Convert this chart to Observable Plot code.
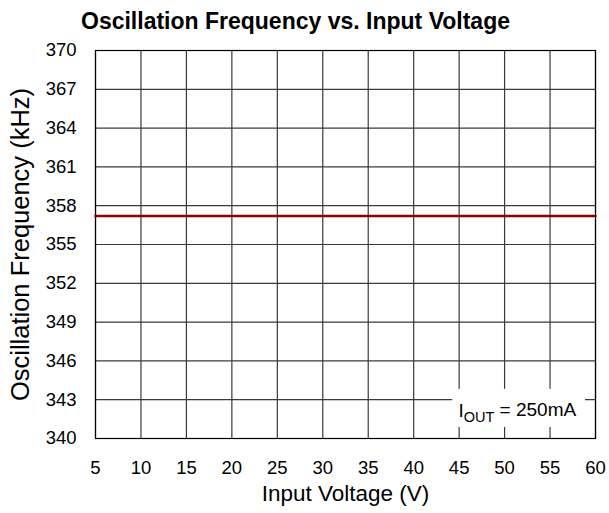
<!DOCTYPE html>
<html>
<head>
<meta charset="utf-8">
<script src="https://cdn.jsdelivr.net/npm/d3@7"></script>
<script src="https://cdn.jsdelivr.net/npm/@observablehq/plot@0.6"></script>
<style>
  html, body { margin: 0; padding: 0; background: #fff; }
  #wrap { width: 609px; font-family: "Liberation Sans", Arial, sans-serif; }
  #title { width: 609px; box-sizing: border-box; padding-right: 18px; padding-top: 7px; height: 40px;
           text-align: center; font-weight: bold; font-size: 23px; line-height: 28px; color: #000; white-space: nowrap; }
</style>
</head>
<body>
<div id="wrap">
  <div id="title">Oscillation Frequency vs. Input Voltage</div>
  <div id="chart"></div>
</div>
<script>
const inputVoltage = [5, 10, 15, 20, 25, 30, 35, 40, 45, 50, 55, 60];
const oscFrequency = [357.2, 357.2, 357.2, 357.2, 357.2, 357.2, 357.2, 357.2, 357.2, 357.2, 357.2, 357.2];
const xTicks = [5, 10, 15, 20, 25, 30, 35, 40, 45, 50, 55, 60];
const yTicks = [340, 343, 346, 349, 352, 355, 358, 361, 364, 367, 370];
const annotationLabel = "IOUT = 250mA";
const annotationBox = [{x1: 44.3, x2: 58.9, y1: 340.85, y2: 343.8}];
const annotationPos = [{x: 51.4, y: 342.1}];

const data = inputVoltage.map((v, i) => ({v, f: oscFrequency[i]}));

const chart = Plot.plot({
  width: 609,
  height: 473,
  marginTop: 10,
  marginLeft: 95,
  marginRight: 14,
  marginBottom: 75,
  style: {fontFamily: "Liberation Sans, Arial, sans-serif", fontSize: "18px", color: "#000", background: "#fff"},
  x: {domain: [5, 60], ticks: xTicks, label: null},
  y: {domain: [340, 370], ticks: yTicks, label: null},
  marks: [
    Plot.gridX(xTicks, {stroke: "#3a3a3a", strokeOpacity: 1, strokeWidth: 1.2}),
    Plot.gridY(yTicks, {stroke: "#3a3a3a", strokeOpacity: 1, strokeWidth: 1.2}),
    Plot.rect(annotationBox, {x1: "x1", x2: "x2", y1: "y1", y2: "y2", fill: "#fff"}),
    Plot.frame({stroke: "#000", strokeWidth: 1.2}),
    Plot.axisX(xTicks, {tickSize: 0, tickPadding: 22, fontSize: 18.5}),
    Plot.axisY(yTicks, {tickSize: 0, tickPadding: 19, fontSize: 18.5}),
    Plot.line(data, {x: "v", y: "f", stroke: "#8b0000", strokeWidth: 2.5}),
    Plot.text(annotationPos, {x: "x", y: "y", text: () => annotationLabel, fontSize: 19, fill: "#000"}),
    Plot.text(["Input Voltage (V)"], {frameAnchor: "bottom", textAnchor: "middle", dy: 62, fontSize: 22.5, fill: "#000"}),
    Plot.text(["Oscillation Frequency (kHz)"], {frameAnchor: "left", textAnchor: "middle", dx: -75, rotate: -90, fontSize: 25.5, fill: "#000"})
  ]
});

// subscript for I_OUT
d3.select(chart).selectAll("text").filter(function() { return this.textContent === annotationLabel; })
  .each(function() {
    const t = d3.select(this);
    t.text(null);
    t.append("tspan").text("I");
    t.append("tspan").attr("font-size", 14.5).attr("dy", "0.3em").text("OUT");
    t.append("tspan").attr("dy", "-0.3em").text(" = 250mA");
  });

document.getElementById("chart").appendChild(chart);
</script>
</body>
</html>
